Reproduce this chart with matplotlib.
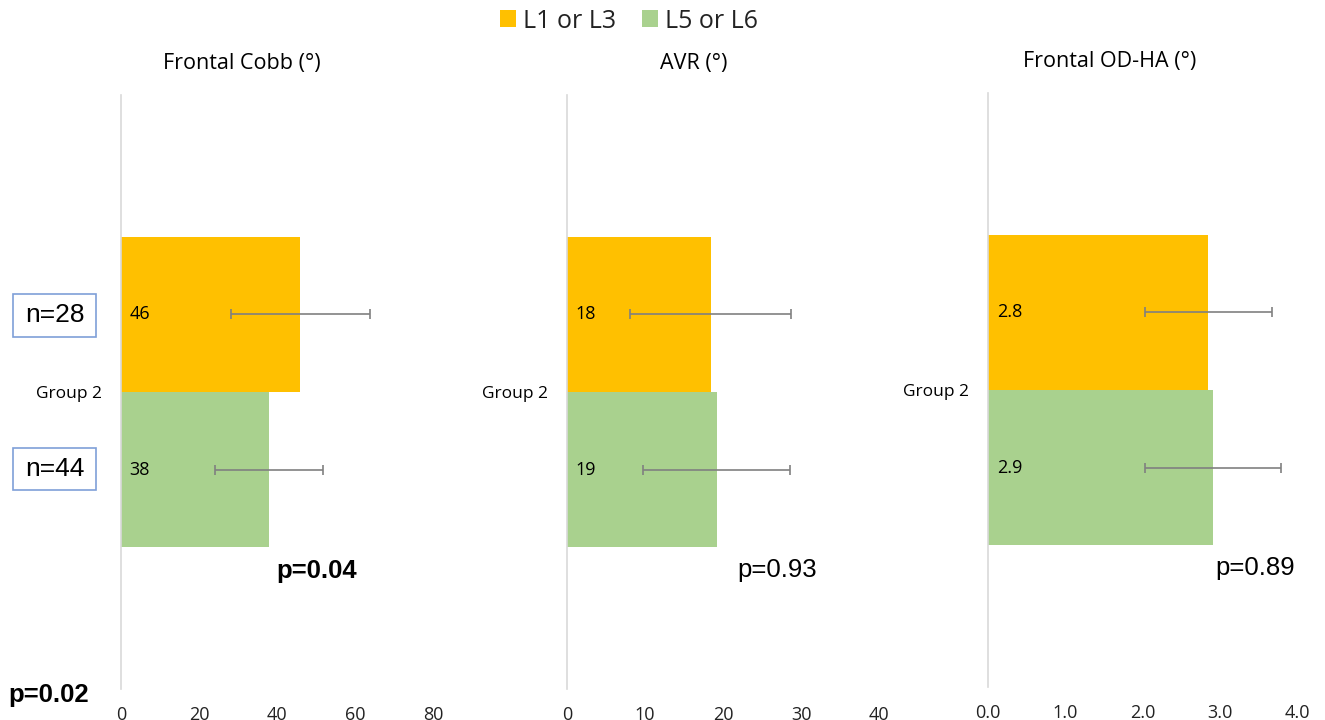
import matplotlib
matplotlib.use("Agg")
import matplotlib.pyplot as plt
from matplotlib.patches import Patch, Rectangle

plt.rcParams['font.family'] = ['Open Sans', 'DejaVu Sans']

# ---- data ----
series = ["L1 or L3", "L5 or L6"]
category = "Group 2"
panel_titles = ["Frontal Cobb (°)", "AVR (°)", "Frontal OD-HA (°)"]
cobb_means = [46, 38]
cobb_err = [17.8, 13.8]
avr_means = [18.4, 19.2]
avr_err = [10.3, 9.4]
odha_means = [2.85, 2.91]
odha_err = [0.82, 0.88]
value_labels = [["46", "38"], ["18", "19"], ["2.8", "2.9"]]
p_values = ["p=0.04", "p=0.93", "p=0.89"]
p_bold = [True, False, False]
overall_p = "p=0.02"
n_labels = ["n=28", "n=44"]
xticks_list = [[0, 20, 40, 60, 80], [0, 10, 20, 30, 40], [0.0, 1.0, 2.0, 3.0, 4.0]]
xtick_labels = [["0", "20", "40", "60", "80"], ["0", "10", "20", "30", "40"],
                ["0.0", "1.0", "2.0", "3.0", "4.0"]]

colors = ["#FFC000", "#A9D18E"]
W, H = 1325, 720
fig = plt.figure(figsize=(W / 100, H / 100), dpi=100)

# axes boxes in pixels (left, right, top, bottom)
boxes = [(121, 433, 95, 689), (567, 879, 95, 689), (988, 1297, 93, 687)]
means_all = [cobb_means, avr_means, odha_means]
errs_all = [cobb_err, avr_err, odha_err]
title_pos = [(242, 63), (694, 63), (1110, 61)]
p_pos = [(317, 571), (777, 570), (1255, 568)]

offset = 0.1305
bar_h = 0.262

for i, (l, r, t, b) in enumerate(boxes):
    ax = fig.add_axes([l / W, (H - b) / H, (r - l) / W, (b - t) / H])
    means = means_all[i]
    errs = errs_all[i]
    ys = [offset, -offset]
    for j in range(2):
        ax.barh(ys[j], means[j], height=bar_h, color=colors[j], zorder=2)
        ax.errorbar(means[j], ys[j], xerr=errs[j], fmt='none', ecolor='#808080',
                    elinewidth=1.2, capsize=3.5, capthick=1.2, zorder=3)
        ax.text(xticks_list[i][-1] * 0.028, ys[j], value_labels[i][j], ha='left',
                va='center', fontsize=13, color='black', zorder=4)
    ax.set_xlim(xticks_list[i][0], xticks_list[i][-1])
    ax.set_ylim(-0.5, 0.5)
    ax.set_xticks(xticks_list[i])
    ax.set_xticklabels(xtick_labels[i], fontsize=13, color='#222222')
    ax.set_yticks([0])
    ax.set_yticklabels([category], fontsize=12.5)
    ax.tick_params(axis='both', length=0)
    ax.tick_params(axis='y', pad=14)
    ax.tick_params(axis='x', pad=12.5)
    for s in ['top', 'right', 'bottom']:
        ax.spines[s].set_visible(False)
    ax.spines['left'].set_color('#D9D9D9')
    ax.spines['left'].set_linewidth(1.2)
    ax.patch.set_alpha(0)

    tx, ty = title_pos[i]
    fig.text(tx / W, 1 - ty / H, panel_titles[i], ha='center', va='center', fontsize=15.5)
    px, py = p_pos[i]
    fig.text(px / W, 1 - py / H, p_values[i], ha='center', va='center',
             fontsize=18.5, fontweight='bold' if p_bold[i] else 'normal',
             family='Liberation Sans')

fig.text(8 / W, 1 - 695 / H, overall_p, ha='left', va='center', fontsize=18.5,
         fontweight='bold', family='Liberation Sans')

# n boxes (pixel boxes: x0, x1, y0, y1)
n_boxes = [(13, 96, 294, 337), (13, 96, 448, 490)]
for k, (x0, x1, y0, y1) in enumerate(n_boxes):
    fig.patches.append(Rectangle((x0 / W, 1 - y1 / H), (x1 - x0) / W, (y1 - y0) / H,
                                 transform=fig.transFigure, fc='white', ec='#7FA0D8',
                                 lw=1.2))
    fig.text((x0 + x1) / 2 / W, 1 - (y0 + y1) / 2 / H, n_labels[k], ha='center',
             va='center', fontsize=19, family='Liberation Sans')

handles = [Patch(facecolor=c, edgecolor='none') for c in colors]
fig.legend(handles, series, loc='center', bbox_to_anchor=(629 / W, 1 - 21 / H), ncol=2,
           frameon=False, fontsize=18, handlelength=0.65, handleheight=0.65,
           handletextpad=0.3, columnspacing=1.0, labelcolor='#222222')

fig.savefig("out.png", dpi=100)
